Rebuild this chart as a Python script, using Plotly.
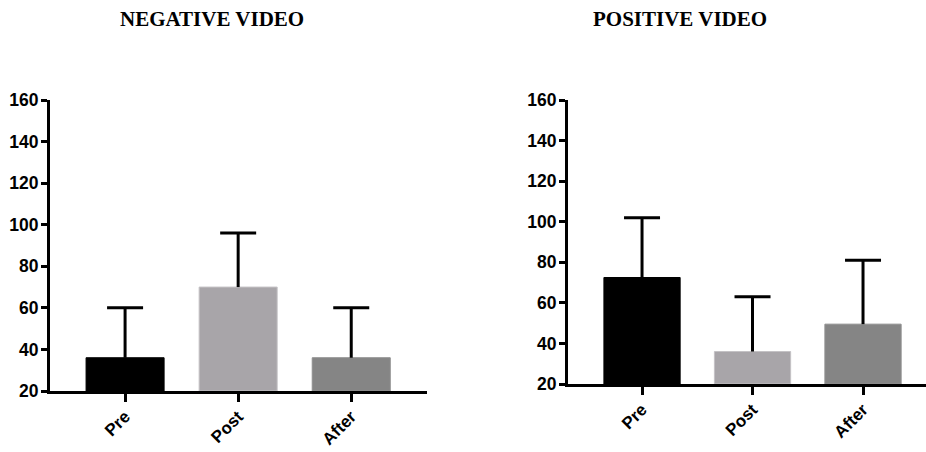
import plotly.graph_objects as go

categories = ["Pre", "Post", "After"]
neg_means = [36, 70, 36]
neg_upper = [60, 96, 60]
pos_means = [72.5, 36, 49.5]
pos_upper = [102, 63, 81]
bar_colors = ["#000000", "#a8a5a9", "#858585"]
line_colors = ["#000000", "#c4c2c5", "#8e8e8e"]
y_ticks = [20, 40, 60, 80, 100, 120, 140, 160]

W, H = 926, 452


def px_x(p):
    return p / W


def px_y(p):
    return 1 - p / H


fig = go.Figure()


def add_panel(means, upper, xa, ya):
    fig.add_trace(go.Bar(
        x=categories, y=[m - 20 for m in means], base=20,
        marker=dict(color=bar_colors, line=dict(color=line_colors, width=1)),
        width=0.69,
        xaxis=xa, yaxis=ya, showlegend=False, hoverinfo="skip",
    ))
    # vertical whisker from bar top to upper value (no caps)
    fig.add_trace(go.Scatter(
        x=categories, y=means, mode="markers", marker=dict(size=1, opacity=0),
        error_y=dict(type="data", symmetric=False,
                     array=[u - m for u, m in zip(upper, means)],
                     arrayminus=[0, 0, 0],
                     color="#000000", thickness=3, width=0),
        xaxis=xa, yaxis=ya, showlegend=False, hoverinfo="skip",
    ))
    # cap at the upper value
    fig.add_trace(go.Scatter(
        x=categories, y=upper, mode="markers", marker=dict(size=1, opacity=0),
        error_y=dict(type="data", symmetric=False, array=[0, 0, 0], arrayminus=[0, 0, 0],
                     color="#000000", thickness=3, width=18),
        xaxis=xa, yaxis=ya, showlegend=False, hoverinfo="skip",
    ))


add_panel(neg_means, neg_upper, "x", "y")
add_panel(pos_means, pos_upper, "x2", "y2")

tickfont = dict(family="Liberation Sans, Arial, sans-serif", size=17.5, color="#000000", weight="bold")
xtickfont = dict(family="Liberation Sans, Arial, sans-serif", size=17, color="#000000", weight="bold")

xcommon = dict(showline=True, linecolor="#000000", linewidth=3, ticks="outside",
               ticklen=8, tickwidth=3, tickcolor="#000000", tickangle=-45,
               tickfont=xtickfont, showgrid=False, zeroline=False, fixedrange=True,
               automargin=False, ticklabelstandoff=-2)
ycommon = dict(showline=True, linecolor="#000000", linewidth=3, ticks="outside",
               ticklen=6, tickwidth=3, tickcolor="#000000", tickvals=y_ticks,
               tickfont=tickfont, showgrid=False, zeroline=False, fixedrange=True,
               ticklabelstandoff=-1, automargin=False)

title_font = dict(family="Liberation Serif, Times New Roman, serif", size=21, color="#000000")

fig.update_layout(
    width=W, height=H,
    margin=dict(l=0, r=0, t=0, b=0, pad=0, autoexpand=False),
    paper_bgcolor="#ffffff", plot_bgcolor="#ffffff",
    xaxis=dict(domain=[px_x(50), px_x(427)], range=[-0.664, 2.67], anchor="y", **xcommon),
    yaxis=dict(domain=[px_y(391), px_y(100)], range=[20, 160], anchor="x", **ycommon),
    xaxis2=dict(domain=[px_x(568), px_x(926)], range=[-0.67, 2.57], anchor="y2", **xcommon),
    yaxis2=dict(domain=[px_y(384), px_y(100)], range=[20, 160], anchor="x2", **ycommon),
    annotations=[
        dict(text="<b>NEGATIVE VIDEO</b>", x=px_x(212), y=px_y(19), xref="paper", yref="paper",
             showarrow=False, xanchor="center", yanchor="middle", font=title_font),
        dict(text="<b>POSITIVE VIDEO</b>", x=px_x(680), y=px_y(19), xref="paper", yref="paper",
             showarrow=False, xanchor="center", yanchor="middle", font=title_font),
    ],
)

fig.write_html("out.html", config={"displayModeBar": False},
               post_script="document.body.style.margin='0px';")
